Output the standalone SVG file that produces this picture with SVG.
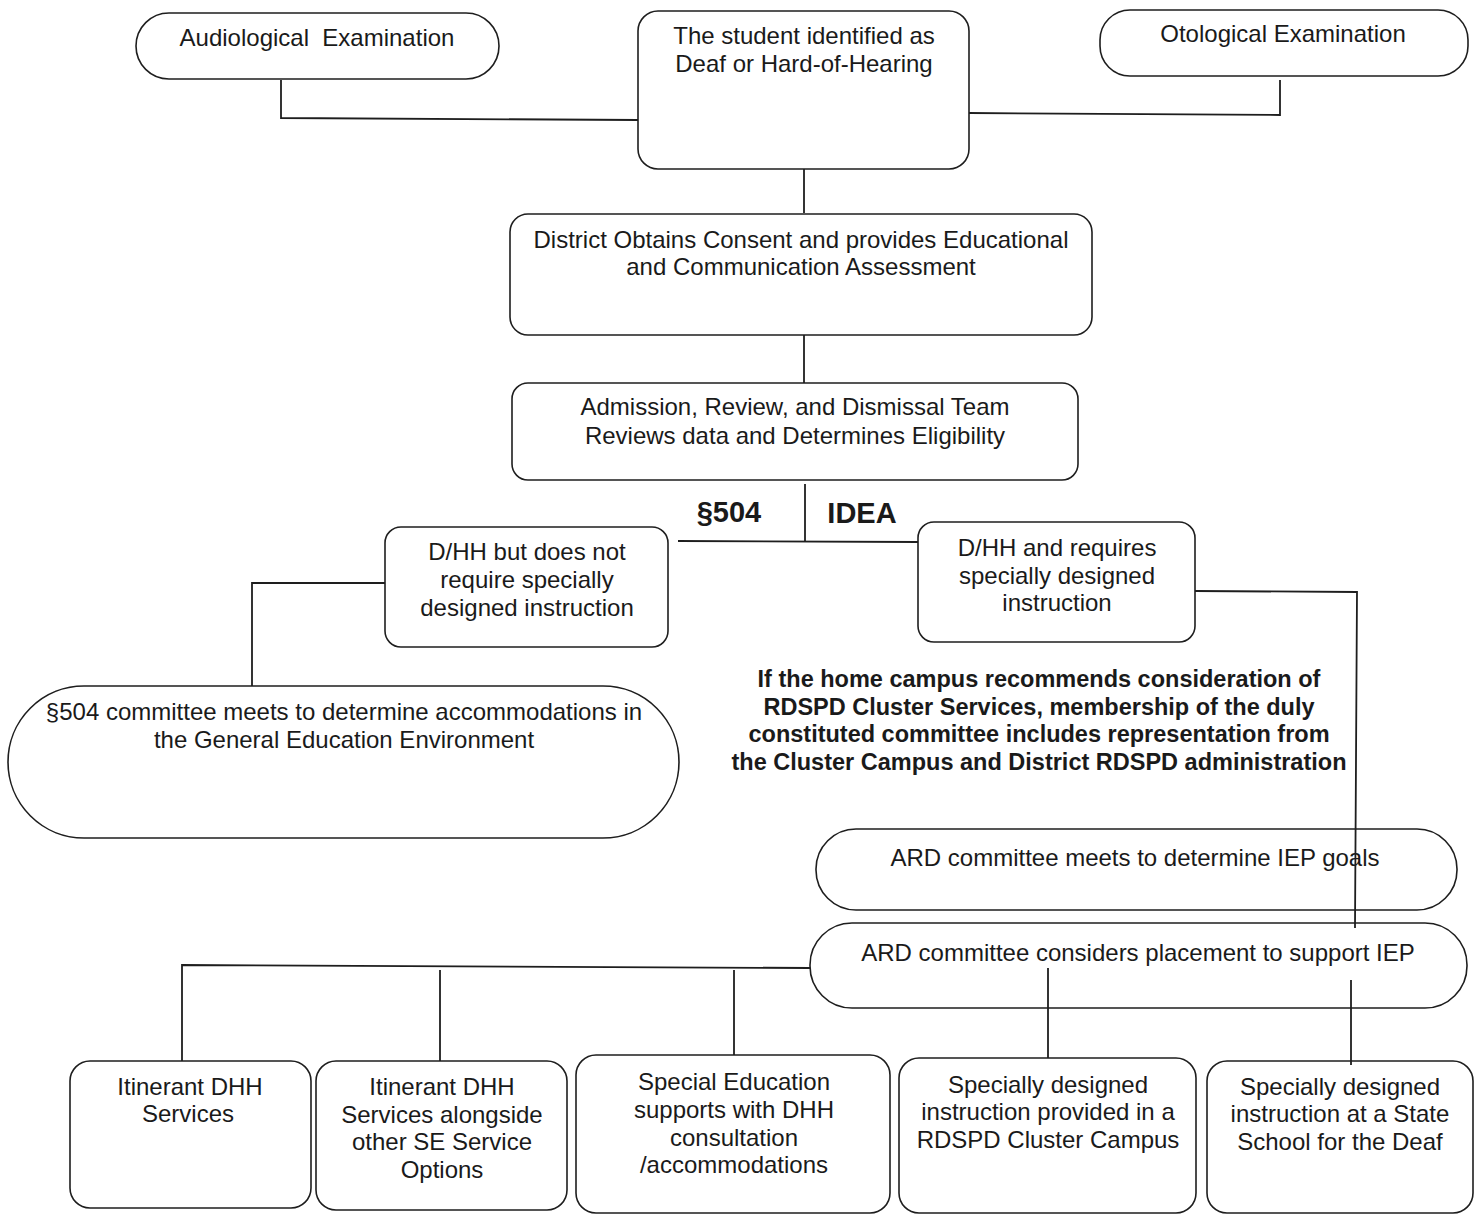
<svg xmlns="http://www.w3.org/2000/svg" width="1476" height="1215" viewBox="0 0 1476 1215">
<style>
.n{fill:#fff;stroke:#1e1e1e;stroke-width:1.6}
.c{fill:none;stroke:#1e1e1e;stroke-width:1.8}
text{font-family:"Liberation Sans",Arial,sans-serif;font-size:24px;fill:#1a1a1a;text-anchor:middle}
.b{font-weight:bold;font-size:23.5px}
.h{font-weight:bold;font-size:29px}
</style>
<rect width="1476" height="1215" fill="#fff"/>
<g id="audiological"><rect class="n" x="136" y="13" width="363" height="66" rx="33"/><text x="317" y="46" xml:space="preserve">Audiological  Examination</text></g>
<g id="student"><rect class="n" x="638" y="11" width="331" height="158" rx="20"/><text x="804" y="44">The student identified as</text><text x="804" y="72">Deaf or Hard-of-Hearing</text></g>
<g id="otological"><rect class="n" x="1100" y="10" width="368" height="66" rx="30"/><text x="1283" y="42">Otological Examination</text></g>
<g id="district"><rect class="n" x="510" y="214" width="582" height="121" rx="18"/><text x="801" y="248">District Obtains Consent and provides Educational</text><text x="801" y="275">and Communication Assessment</text></g>
<g id="ardteam"><rect class="n" x="512" y="383" width="566" height="97" rx="16"/><text x="795" y="415">Admission, Review, and Dismissal Team</text><text x="795" y="444">Reviews data and Determines Eligibility</text></g>
<g id="labels"><text class="h" x="729" y="522">§504</text><text class="h" x="862" y="523">IDEA</text></g>
<g id="dhh-not"><rect class="n" x="385" y="527" width="283" height="120" rx="16"/><text x="527" y="560">D/HH but does not</text><text x="527" y="588">require specially</text><text x="527" y="616">designed instruction</text></g>
<g id="dhh-req"><rect class="n" x="918" y="522" width="277" height="120" rx="16"/><text x="1057" y="556">D/HH and requires</text><text x="1057" y="584">specially designed</text><text x="1057" y="611">instruction</text></g>
<g id="s504"><rect class="n" x="8" y="686" width="671" height="152" rx="76"/><text x="344" y="720">§504 committee meets to determine accommodations in</text><text x="344" y="748">the General Education Environment</text></g>
<g id="note"><text class="b" x="1039" y="687">If the home campus recommends consideration of</text><text class="b" x="1039" y="715">RDSPD Cluster Services, membership of the duly</text><text class="b" x="1039" y="742">constituted committee includes representation from</text><text class="b" x="1039" y="770">the Cluster Campus and District RDSPD administration</text></g>
<g id="ard-goals"><rect class="n" x="816" y="829" width="641" height="81" rx="40"/><text x="1135" y="866">ARD committee meets to determine IEP goals</text></g>
<g id="ard-place"><rect class="n" x="810" y="923" width="657" height="85" rx="42"/><text x="1138" y="961">ARD committee considers placement to support IEP</text></g>
<g id="itinerant"><rect class="n" x="70" y="1061" width="241" height="147" rx="20"/><text x="190" y="1095">Itinerant DHH</text><text x="188" y="1122">Services</text></g>
<g id="itinerant-se"><rect class="n" x="316" y="1061" width="251" height="149" rx="20"/><text x="442" y="1095">Itinerant DHH</text><text x="442" y="1123">Services alongside</text><text x="442" y="1150">other SE Service</text><text x="442" y="1178">Options</text></g>
<g id="sped"><rect class="n" x="576" y="1055" width="314" height="158" rx="20"/><text x="734" y="1090">Special Education</text><text x="734" y="1118">supports with DHH</text><text x="734" y="1146">consultation</text><text x="734" y="1173">/accommodations</text></g>
<g id="cluster"><rect class="n" x="899" y="1058" width="297" height="155" rx="20"/><text x="1048" y="1093">Specially designed</text><text x="1048" y="1120">instruction provided in a</text><text x="1048" y="1148">RDSPD Cluster Campus</text></g>
<g id="state"><rect class="n" x="1207" y="1061" width="266" height="152" rx="20"/><text x="1340" y="1095">Specially designed</text><text x="1340" y="1122">instruction at a State</text><text x="1340" y="1150">School for the Deaf</text></g>
<g id="connectors">
<polyline class="c" points="281,80 281,118 638,120"/>
<polyline class="c" points="969,113 1280,115 1280,80"/>
<line class="c" x1="804" y1="169" x2="804" y2="213"/>
<line class="c" x1="804" y1="335" x2="804" y2="383"/>
<line class="c" x1="805" y1="484" x2="805" y2="541"/>
<line class="c" x1="678" y1="541" x2="918" y2="542"/>
<polyline class="c" points="385,583 252,583 252,686"/>
<polyline class="c" points="1195,591 1357,592 1355,928"/>
<polyline class="c" points="810,968 182,965 182,1061"/>
<line class="c" x1="440" y1="970" x2="440" y2="1061"/>
<line class="c" x1="734" y1="970" x2="734" y2="1055"/>
<line class="c" x1="1048" y1="968" x2="1048" y2="1058"/>
<line class="c" x1="1351" y1="980" x2="1351" y2="1065"/>
</g>
</svg>
